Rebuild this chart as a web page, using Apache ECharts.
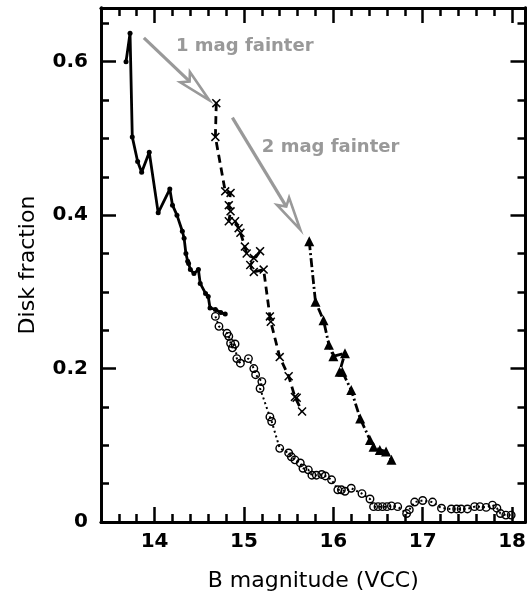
<!DOCTYPE html>
<html><head><meta charset="utf-8">
<script src="https://cdn.jsdelivr.net/npm/echarts@6/dist/echarts.min.js"></script>
<style>html,body{margin:0;padding:0;background:#fff}#c{width:529px;height:599px}</style>
</head><body><div id="c"></div>
<script>
// ---- axis ticks / labels ----
const xTickLabels = [14, 15, 16, 17, 18];
const xMinorTicks = [13.6,13.8,14.2,14.4,14.6,14.8,15.2,15.4,15.6,15.8,16.2,16.4,16.6,16.8,17.2,17.4,17.6,17.8];
const yTickLabels = [0, 0.2, 0.4, 0.6];
const yMinorTicks = [0.05,0.1,0.15,0.25,0.3,0.35,0.45,0.5,0.55,0.65];
const xRange = [13.4, 18.15];
const yRange = [0, 0.67];

// ---- data series [B magnitude, disk fraction] ----
const brightSample = [
 [13.68,0.600],[13.725,0.637],[13.75,0.502],[13.81,0.470],[13.855,0.456],[13.94,0.482],
 [14.04,0.403],[14.17,0.434],[14.20,0.413],[14.25,0.400],[14.31,0.379],[14.33,0.370],
 [14.35,0.350],[14.37,0.340],[14.38,0.337],[14.40,0.329],[14.44,0.324],[14.49,0.329],
 [14.51,0.311],[14.57,0.298],[14.60,0.294],[14.62,0.279],[14.68,0.277],[14.74,0.273],[14.79,0.271]
];
const fullSample = [
 [14.68,0.268],[14.72,0.255],[14.81,0.246],[14.83,0.242],[14.85,0.233],[14.87,0.227],
 [14.90,0.232],[14.92,0.213],[14.96,0.207],[15.05,0.213],[15.11,0.200],[15.13,0.192],
 [15.20,0.183],[15.18,0.174],[15.29,0.137],[15.31,0.131],[15.40,0.096],[15.50,0.090],
 [15.53,0.085],[15.57,0.081],[15.63,0.077],[15.66,0.070],[15.72,0.068],[15.76,0.061],
 [15.81,0.061],[15.87,0.062],[15.91,0.060],[15.98,0.055],[16.05,0.042],[16.09,0.042],
 [16.13,0.040],[16.20,0.044],[16.32,0.037],[16.41,0.030],[16.45,0.020],[16.50,0.020],
 [16.55,0.020],[16.60,0.020],[16.65,0.021],[16.72,0.020],[16.82,0.011],[16.85,0.016],
 [16.91,0.026],[17.00,0.028],[17.11,0.026],[17.21,0.018],[17.32,0.017],[17.38,0.017],
 [17.43,0.017],[17.50,0.017],[17.58,0.020],[17.64,0.020],[17.71,0.019],[17.78,0.022],
 [17.83,0.018],[17.87,0.011],[17.93,0.009],[17.99,0.009]
];
const oneMagFainter = [
 [14.69,0.546],[14.68,0.502],[14.79,0.431],[14.85,0.429],[14.83,0.413],[14.85,0.405],
 [14.83,0.392],[14.90,0.392],[14.94,0.383],[14.96,0.377],[15.01,0.359],[15.03,0.350],
 [15.11,0.344],[15.18,0.353],[15.07,0.335],[15.11,0.326],[15.22,0.329],[15.29,0.268],
 [15.30,0.261],[15.40,0.215],[15.50,0.190],[15.57,0.163],[15.59,0.162],[15.65,0.144]
];
const twoMagFainter = [
 [15.73,0.366],[15.80,0.287],[15.89,0.263],[15.95,0.231],[16.00,0.216],[16.13,0.220],
 [16.07,0.196],[16.10,0.196],[16.20,0.172],[16.30,0.135],[16.41,0.107],[16.45,0.098],
 [16.52,0.094],[16.59,0.092],[16.65,0.081]
];
// ---- annotations ----
const arrows = [[13.88,0.631,14.61,0.550],[14.87,0.527,15.63,0.381]];
const annTexts = ['1 mag fainter','2 mag fainter'];
const annPos = [[14.24,0.620],[15.20,0.489]];

const FONT = 'DejaVu Sans';
const crossPath = 'path://M0,1.2 L1.2,0 L5,3.8 L8.8,0 L10,1.2 L6.2,5 L10,8.8 L8.8,10 L5,6.2 L1.2,10 L0,8.8 L3.8,5 Z';

function axisBase(pos, range, ticks, len, labels, extra) {
  return Object.assign({
    type:'value', position:pos, min:range[0], max:range[1],
    splitLine:{show:false},
    axisLine:{show:true, onZero:false, lineStyle:{color:'#000', width:2.8}},
    axisTick:{show:true, inside:true, length:len, customValues:ticks, lineStyle:{color:'#000', width:2.5}},
    axisLabel: labels ? Object.assign({customValues:labels, color:'#000', fontFamily:FONT, fontWeight:'bold', fontSize:20}, extra && extra.label) : {show:false}
  }, extra && extra.axis);
}

const chart = echarts.init(document.getElementById('c'), null, {renderer:'canvas'});
chart.setOption({
  animation:false,
  backgroundColor:'#fff',
  grid:{left:101, right:2, top:8, bottom:77, containLabel:false},
  xAxis:[
    axisBase('bottom', xRange, xTickLabels, 15, xTickLabels, {
      label:{margin:10},
      axis:{name:'B magnitude (VCC)', nameLocation:'middle', nameGap:48,
            nameTextStyle:{fontFamily:FONT, fontSize:22, color:'#000'}}}),
    axisBase('bottom', xRange, xMinorTicks, 8, null),
    axisBase('top', xRange, xTickLabels, 15, null),
    axisBase('top', xRange, xMinorTicks, 8, null)
  ],
  yAxis:[
    axisBase('left', yRange, yTickLabels, 15, yTickLabels, {
      label:{margin:13, formatter:v => v === 0 ? '0' : v.toFixed(1)},
      axis:{name:'Disk fraction', nameLocation:'middle', nameGap:62,
            nameTextStyle:{fontFamily:FONT, fontSize:22, color:'#000'}}}),
    axisBase('left', yRange, yMinorTicks, 8, null),
    axisBase('right', yRange, yTickLabels, 15, null),
    axisBase('right', yRange, yMinorTicks, 8, null)
  ],
  series:[
    {type:'line', data:fullSample, symbol:'circle', symbolSize:7.5, showSymbol:true,
     lineStyle:{color:'#000', width:2, type:[2,3]},
     itemStyle:{color:'rgba(255,255,255,0)', borderColor:'#000', borderWidth:1.4}, z:3},
    {type:'line', data:brightSample, symbol:'circle', symbolSize:5,
     lineStyle:{color:'#000', width:2.8}, itemStyle:{color:'#000', borderWidth:0}, z:4},
    {type:'line', data:oneMagFainter, symbol:crossPath, symbolSize:9,
     lineStyle:{color:'#000', width:2.8, type:[8,5]}, itemStyle:{color:'#000', borderWidth:0}, z:4},
    {type:'line', data:twoMagFainter, symbol:'triangle', symbolSize:10,
     lineStyle:{color:'#000', width:2.8, type:[9,3,2,3]}, itemStyle:{color:'#000', borderWidth:0}, z:4},
    {type:'custom', data:arrows, z:5, silent:true,
     renderItem:function(params, api){
       const p1 = api.coord([api.value(0), api.value(1)]);
       const p2 = api.coord([api.value(2), api.value(3)]);
       const a = Math.atan2(p2[1]-p1[1], p2[0]-p1[0]);
       const L = 34, h = 12*Math.PI/180, notch = 27;
       const l = [p2[0]-L*Math.cos(a-h), p2[1]-L*Math.sin(a-h)];
       const r = [p2[0]-L*Math.cos(a+h), p2[1]-L*Math.sin(a+h)];
       const n = [p2[0]-notch*Math.cos(a), p2[1]-notch*Math.sin(a)];
       const st = {stroke:'#999', lineWidth:2.6, fill:null};
       return {type:'group', children:[
         {type:'line', shape:{x1:p1[0], y1:p1[1], x2:n[0], y2:n[1]}, style:{stroke:'#999', lineWidth:3.2}},
         {type:'polygon', shape:{points:[p2, l, n, r]}, style:st}
       ]};
     }},
    {type:'custom', data:annPos, z:5, silent:true,
     renderItem:function(params, api){
       const p = api.coord([api.value(0), api.value(1)]);
       return {type:'text', x:p[0], y:p[1], style:{text:annTexts[params.dataIndex], fill:'#999',
         font:'bold 18px "' + FONT + '"', textAlign:'left', textVerticalAlign:'middle'}};
     }}
  ]
});
</script></body></html>
